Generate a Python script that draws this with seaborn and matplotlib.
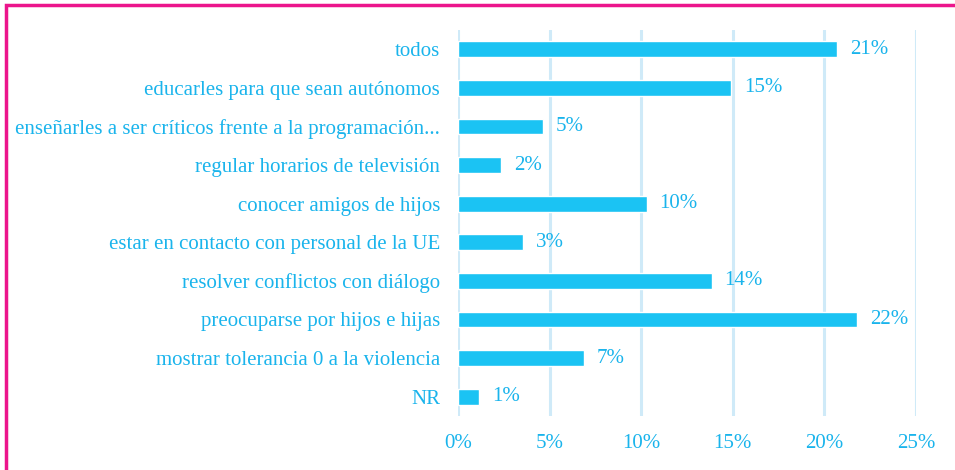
import pandas as pd
import seaborn as sns
import matplotlib.pyplot as plt
from matplotlib.patches import Rectangle

# Data
categories = [
    "todos",
    "educarles para que sean autónomos",
    "enseñarles a ser críticos frente a la programación...",
    "regular horarios de televisión",
    "conocer amigos de hijos",
    "estar en contacto con personal de la UE",
    "resolver conflictos con diálogo",
    "preocuparse por hijos e hijas",
    "mostrar tolerancia 0 a la violencia",
    "NR",
]
# bar lengths as drawn (the printed labels are rounded)
values = [20.7, 14.9, 4.65, 2.35, 10.3, 3.55, 13.85, 21.8, 6.85, 1.15]
labels = ["21%", "15%", "5%", "2%", "10%", "3%", "14%", "22%", "7%", "1%"]
x_ticks = [0, 5, 10, 15, 20, 25]

bar_color = "#1BC3F3"
text_color = "#1AB4EC"
grid_color = "#CFEAF8"
frame_color = "#EC158C"

df = pd.DataFrame({"item": categories, "pct": values})

sns.set_style("white")
plt.rcParams["font.family"] = ["Liberation Serif", "DejaVu Serif"]

fig = plt.figure(figsize=(9.55, 4.7), dpi=100)
ax = fig.add_axes([0.4796, 0.115, 0.4796, 0.821])

sns.barplot(data=df, x="pct", y="item", color=bar_color, saturation=1,
            width=0.41, ax=ax, zorder=3)

ax.set_xlim(0, 25)
ax.set_ylim(9.5, -0.5)
ax.set_xticks(x_ticks)
ax.set_xticklabels([f"{t}%" for t in x_ticks])
ax.set_xlabel("")
ax.set_ylabel("")

for gx in x_ticks:
    ax.axvline(gx, color=grid_color, lw=2.2, zorder=1)

for i, (v, lab) in enumerate(zip(values, labels)):
    ax.text(v + 0.7, i, lab, va="center", ha="left",
            fontsize=15, color=text_color)

ax.tick_params(axis="x", length=0, pad=13, labelsize=15, labelcolor=text_color)
ax.tick_params(axis="y", length=0, pad=13, labelsize=15, labelcolor=text_color)
for s in ax.spines.values():
    s.set_visible(False)

# magenta frame running off the right and bottom edges
fig.patches.append(Rectangle((6 / 955, -0.1), 1.2, 1 - 5 / 470 + 0.1,
                             transform=fig.transFigure, fill=False,
                             edgecolor=frame_color, lw=2.5))

fig.savefig("out.png", dpi=100)
